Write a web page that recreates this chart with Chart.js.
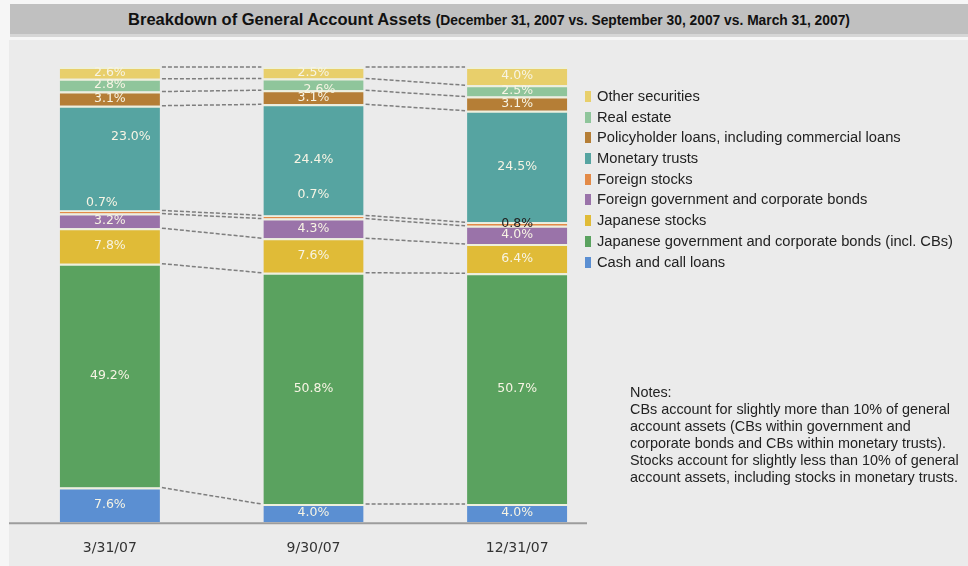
<!DOCTYPE html>
<html>
<head>
<meta charset="utf-8">
<script src="https://cdn.jsdelivr.net/npm/chart.js@4/dist/chart.umd.min.js"></script>
<style>
  html, body { margin: 0; padding: 0; }
  body { width: 968px; height: 566px; background: #f6f6f6; position: relative; overflow: hidden; font-family: "Liberation Sans", Arial, sans-serif; }
  #titleBar { position: absolute; left: 10px; top: 4px; width: 958px; height: 30px; background: #c0c0c0; border-bottom: 3px solid #d6d6d6; text-align: center; line-height: 30px; font-weight: bold; color: #111; }
  #titleBar .main { font-size: 16.5px; }
  #titleBar .sub { font-size: 13.8px; }
  #panel { position: absolute; left: 9px; top: 40px; right: 0; bottom: 0; background: #ebebeb; }
  #chartBox { position: absolute; left: 0; top: 0; width: 968px; height: 600px; }
  #legend { position: absolute; left: 585px; top: 86px; font-size: 14.7px; color: #222; }
  #legend div { height: 20.7px; line-height: 20.7px; white-space: nowrap; }
  #legend span.sw { display: inline-block; width: 6px; height: 11px; margin-right: 6px; vertical-align: -1px; }
  #notes { position: absolute; left: 630px; top: 384px; font-size: 14.4px; line-height: 17px; color: #222; }
</style>
</head>
<body>
<div id="titleBar"><span class="main">Breakdown of General Account Assets</span> <span class="sub">(December 31, 2007 vs. September 30, 2007 vs. March 31, 2007)</span></div>
<div id="panel"></div>
<div id="chartBox"><canvas id="assetChart" width="968" height="600"></canvas></div>
<div id="legend"></div>
<div id="notes">Notes:<br>CBs account for slightly more than 10% of general<br>account assets (CBs within government and<br>corporate bonds and CBs within monetary trusts).<br>Stocks account for slightly less than 10% of general<br>account assets, including stocks in monetary trusts.</div>

<script>
// period labels on the x axis
const periods = ['3/31/07', '9/30/07', '12/31/07'];

// asset shares in %, stacked bottom to top
const cashCallLoans = [7.6, 4.0, 4.0];
const japaneseBonds = [49.2, 50.8, 50.7];
const japaneseStocks = [7.8, 7.6, 6.4];
const foreignBonds = [3.2, 4.3, 4.0];
const foreignStocks = [0.7, 0.7, 0.8];
const monetaryTrusts = [23.0, 24.4, 24.5];
const policyholderLoans = [3.1, 3.1, 3.1];
const realEstate = [2.8, 2.6, 2.5];
const otherSecurities = [2.6, 2.5, 4.0];

const series = [
  { name: 'Cash and call loans', values: cashCallLoans, color: '#5b8fd2' },
  { name: 'Japanese government and corporate bonds (incl. CBs)', values: japaneseBonds, color: '#5aa25f' },
  { name: 'Japanese stocks', values: japaneseStocks, color: '#e0bb37' },
  { name: 'Foreign government and corporate bonds', values: foreignBonds, color: '#9a73a9' },
  { name: 'Foreign stocks', values: foreignStocks, color: '#e38a47' },
  { name: 'Monetary trusts', values: monetaryTrusts, color: '#56a4a1' },
  { name: 'Policyholder loans, including commercial loans', values: policyholderLoans, color: '#b57e36' },
  { name: 'Real estate', values: realEstate, color: '#8fc59b' },
  { name: 'Other securities', values: otherSecurities, color: '#e8cf6b' }
];

// a few value labels sit away from their segment centre (key: dataset,bar)
const labelNudge = { '5,0': [21, -21], '4,0': [-8, -9], '4,1': [0, -22], '7,1': [6, 5] };
const labelInk = { '4,2': '#222' };

// dashed lines joining matching segment edges of neighbouring bars
const connectorPlugin = {
  id: 'connectors',
  afterDatasetsDraw(chart) {
    const ctx = chart.ctx;
    ctx.save();
    ctx.strokeStyle = '#7e7e7e';
    ctx.lineWidth = 1.5;
    ctx.setLineDash([4, 2]);
    chart.data.datasets.forEach((ds, d) => {
      const bars = chart.getDatasetMeta(d).data;
      for (let i = 0; i < bars.length - 1; i++) {
        const a = bars[i], b = bars[i + 1];
        ctx.beginPath();
        ctx.moveTo(a.x + a.width / 2 + 2, a.y);
        ctx.lineTo(b.x - b.width / 2 - 2, b.y);
        ctx.stroke();
      }
    });
    ctx.restore();
  }
};

// percentage text inside each segment
const valueLabelPlugin = {
  id: 'valueLabels',
  afterDatasetsDraw(chart) {
    const ctx = chart.ctx;
    ctx.save();
    ctx.font = '12.5px "DejaVu Sans", Verdana, sans-serif';
    ctx.textAlign = 'center';
    ctx.textBaseline = 'middle';
    chart.data.datasets.forEach((ds, d) => {
      chart.getDatasetMeta(d).data.forEach((bar, i) => {
        const key = d + ',' + i;
        const nudge = labelNudge[key] || [0, 0];
        ctx.fillStyle = labelInk[key] || '#f7f4e4';
        ctx.fillText(ds.data[i].toFixed(1) + '%', bar.x + nudge[0], (bar.y + bar.base) / 2 + nudge[1]);
      });
    });
    ctx.restore();
  }
};

// base line under the bars
const baseLinePlugin = {
  id: 'baseLine',
  afterDraw(chart) {
    const ctx = chart.ctx;
    const y = chart.scales.y.getPixelForValue(0);
    ctx.save();
    ctx.strokeStyle = '#9c9c9c';
    ctx.lineWidth = 2;
    ctx.beginPath();
    ctx.moveTo(chart.chartArea.left + 1, y + 1);
    ctx.lineTo(587, y + 1);
    ctx.stroke();
    ctx.restore();
  }
};

const chart = new Chart(document.getElementById('assetChart'), {
  type: 'bar',
  data: {
    labels: periods,
    datasets: series.map(s => ({
      label: s.name,
      data: s.values,
      backgroundColor: s.color,
      borderColor: '#eef0dc',
      borderWidth: { top: 2, left: 0, right: 0, bottom: 0 },
      borderSkipped: false,
      categoryPercentage: 1,
      barPercentage: 0.492
    }))
  },
  options: {
    responsive: false,
    animation: false,
    layout: { padding: { left: 8, right: 349, top: 67, bottom: 33 } },
    plugins: {
      legend: { display: false },
      tooltip: { enabled: false }
    },
    scales: {
      x: {
        stacked: true,
        grid: { display: false },
        border: { display: false },
        ticks: {
          padding: 10,
          color: '#333',
          font: { family: '"DejaVu Sans", Verdana, sans-serif', size: 14 }
        }
      },
      y: {
        stacked: true,
        display: false,
        min: 0,
        max: 100
      }
    }
  },
  plugins: [connectorPlugin, valueLabelPlugin, baseLinePlugin]
});

// legend listed top to bottom, same order as the stack
const legendBox = document.getElementById('legend');
chart.data.datasets.slice().reverse().forEach(ds => {
  const row = document.createElement('div');
  row.innerHTML = '<span class="sw" style="background:' + ds.backgroundColor + '"></span>' + ds.label;
  legendBox.appendChild(row);
});
</script>
</body>
</html>
